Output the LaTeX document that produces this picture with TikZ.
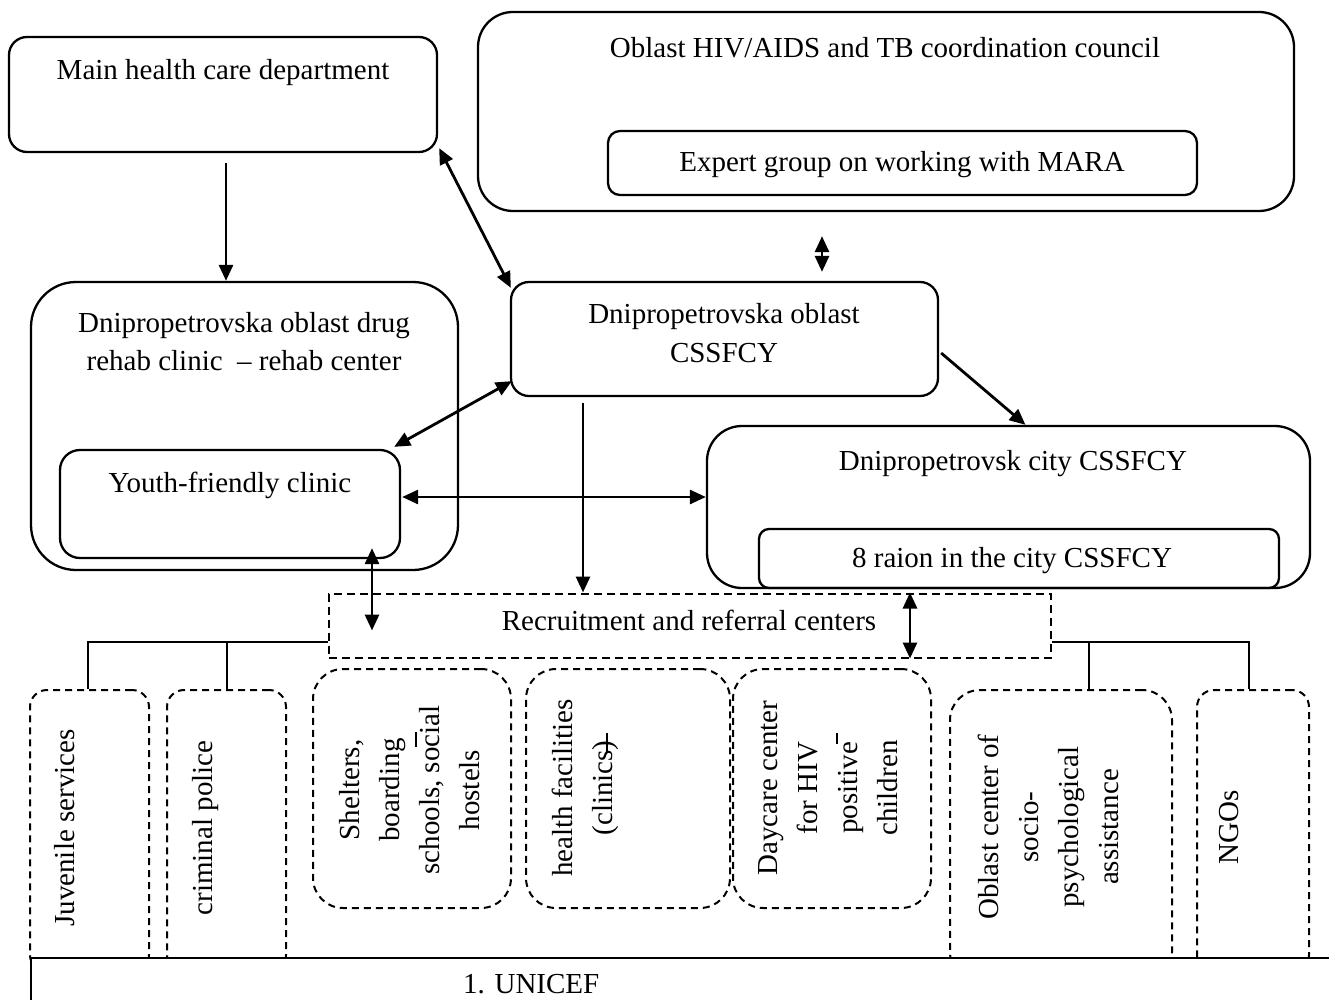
\documentclass[tikz,border=0pt]{standalone}
\usepackage{fontspec}
\setmainfont{Liberation Serif}
\usetikzlibrary{arrows.meta,calc}
\begin{document}
\begin{tikzpicture}[x=1pt,y=-1pt,
  every node/.style={font=\fontsize{29}{36}\selectfont},
  box/.style={draw, line width=2.3pt, rectangle, inner sep=0pt},
  dbox/.style={draw, line width=2pt, dash pattern=on 7pt off 5pt, rectangle, inner sep=0pt},
  lbl/.style={inner sep=0pt, anchor=base},
  vlbl/.style={inner sep=0pt, rotate=90, align=center, font=\fontsize{29}{40}\selectfont},
  tip/.tip={Triangle[length=16pt,width=14pt]},
  arr/.style={line width=2.8pt, -tip},
  darr/.style={line width=2.8pt, tip-tip},
  tree/.style={line width=2pt},
  stroke/.style={line width=1.4pt}]
\useasboundingbox (0,0) rectangle (1329,1000);

% upper level
\node[box, rounded corners=18pt, minimum width=428pt, minimum height=115pt] (mhc) at (223,94.5) {};
\node[box, rounded corners=35pt, minimum width=816pt, minimum height=199pt] (council) at (886,111.5) {};
\node[box, rounded corners=12pt, minimum width=589pt, minimum height=64pt] (expert) at (902.5,163) {};

% middle level
\node[box, rounded corners=45pt, minimum width=427pt, minimum height=288pt] (rehab) at (244.5,426) {};
\node[box, rounded corners=18pt, minimum width=427pt, minimum height=114pt] (ocss) at (724.5,339) {};
\node[box, rounded corners=20pt, minimum width=340pt, minimum height=108pt] (youth) at (230,504) {};
\node[box, rounded corners=35pt, minimum width=603pt, minimum height=162pt] (city) at (1008.5,507) {};
\node[box, rounded corners=10pt, minimum width=520pt, minimum height=59pt] (raion) at (1019,558.5) {};
\node[dbox, dash pattern=on 8pt off 5pt, minimum width=722pt, minimum height=64pt] (recruit) at (690,625.5) {};

% partner services
\node[dbox, rounded corners=17pt, minimum width=119pt, minimum height=282pt] (juv) at (89.5,831) {};
\node[dbox, rounded corners=17pt, minimum width=119pt, minimum height=282pt] (crim) at (226.5,831) {};
\node[dbox, rounded corners=30pt, minimum width=198pt, minimum height=239pt] (shel) at (412,788.5) {};
\node[dbox, rounded corners=30pt, minimum width=204pt, minimum height=239pt] (health) at (628,788.5) {};
\node[dbox, rounded corners=30pt, minimum width=198pt, minimum height=239pt] (day) at (832,788.5) {};
\node[dbox, rounded corners=30pt, minimum width=222pt, minimum height=292pt] (ocen) at (1061,836) {};
\node[dbox, rounded corners=17pt, minimum width=112pt, minimum height=282pt] (ngo) at (1253,831) {};

% donor strip
\node[box, fill=white, anchor=north west, minimum width=1320pt, minimum height=80pt] (unicef) at (30,957) {};

% labels
\node[lbl] (mhcT) at (223,80) {Main health care department};
\node[lbl] (councilT) at (885,58) {Oblast HIV/AIDS and TB coordination council};
\node[lbl] (expertT) at (902,172) {Expert group on working with MARA};
\node[lbl] (rehabT1) at (244,332) {Dnipropetrovska oblast drug};
\node[lbl] (rehabT2) at (244,370) {rehab clinic\ \ – rehab center};
\node[lbl] (ocssT1) at (724,323) {Dnipropetrovska oblast};
\node[lbl] (ocssT2) at (724,362) {CSSFCY};
\node[lbl] (youthT) at (230,492) {Youth-friendly clinic};
\node[lbl] (cityT) at (1013,470) {Dnipropetrovsk city CSSFCY};
\node[lbl] (raionT) at (1012,567) {8 raion in the city CSSFCY};
\node[lbl] (recruitT) at (689,630) {Recruitment and referral centers};
\node[lbl, anchor=base west] (unicefT) at (463,993) {1. UNICEF};

\node[vlbl] (juvT) at (65,828) {Juvenile services};
\node[vlbl] (crimT) at (206,828) {criminal police};
\node[vlbl] (shelT) at (410,790) {Shelters,\\boarding\\schools, social\\hostels};
\node[vlbl] (healthT) at (585,788) {health facilities\\(clinics)};
\node[vlbl] (dayT) at (828,788) {Daycare center\\for HIV\\positive\\children};
\node[vlbl] (ocenT) at (1048,827) {Oblast center of\\socio-\\psychological\\assistance};
\node[vlbl] (ngoT) at (1229,827) {NGOs};

% stray strokes over the labels
\draw[stroke] (416,732) -- (416,747);
\draw[stroke] (607,733) -- (607,752);
\draw[stroke] (837,733) -- (837,744);

% connectors
\draw[arr] ([xshift=3pt,yshift=-10pt]mhc.south) -- ([xshift=3pt]mhc.south |- rehab.north);
\draw[darr] ([xshift=1pt,yshift=5pt]mhc.south east) -- ([xshift=1pt,yshift=-7pt]ocss.north west);
\draw[darr] ([xshift=-64pt,yshift=-24pt]council.south) -- ([xshift=-64pt,yshift=9pt]council.south |- ocss.north);
\draw[darr] ([xshift=2pt,yshift=16pt]ocss.south west) -- ([xshift=-7pt,yshift=2pt]youth.north east);
\draw[darr] ([xshift=1pt,yshift=7pt]youth.east) -- ([yshift=7pt]youth.east -| city.west);
\draw[arr] ([xshift=-141.5pt,yshift=-6pt]ocss.south) -- ([xshift=-141.5pt]ocss.south |- recruit.north);
\draw[darr] ([xshift=142pt,yshift=11pt]youth.south) -- ([xshift=142pt,yshift=-38pt]youth.south |- recruit.north);
\draw[darr] ([xshift=220pt]recruit.north) -- ([xshift=220pt]recruit.south);
\draw[arr] ([xshift=2pt,yshift=-14pt]ocss.east) -- ([xshift=17pt]city.north);

% branches from the referral centers
\coordinate (busL) at ([yshift=-16.5pt]recruit.west);
\coordinate (busR) at ([yshift=-16.5pt]recruit.east);
\draw[tree] (busL) -- ([xshift=-1.5pt]busL -| juv.north) -- ([xshift=-1.5pt]juv.north);
\draw[tree] (busL -| crim.north) -- (crim.north);
\draw[tree] (busR) -- ([xshift=-4pt]busR -| ngo.north) -- ([xshift=-4pt]ngo.north);
\draw[tree] ([xshift=28pt]busR -| ocen.north) -- ([xshift=28pt]ocen.north);
\end{tikzpicture}
\end{document}
